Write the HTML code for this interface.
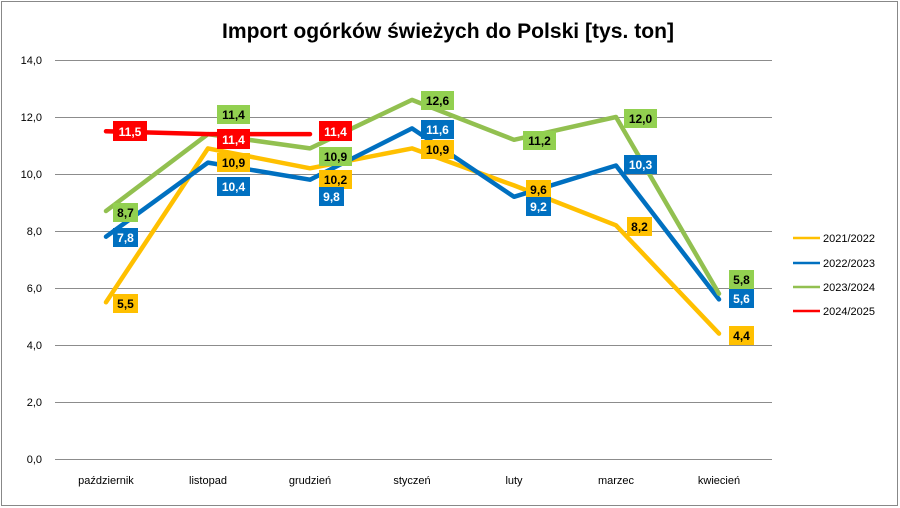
<!DOCTYPE html>
<html><head><meta charset="utf-8"><style>
html,body{margin:0;padding:0;background:#fff;}
svg{display:block;font-family:"Liberation Sans",sans-serif;}
</style></head><body>
<svg width="900" height="508" viewBox="0 0 900 508">
<rect x="1.5" y="1.5" width="896" height="504" fill="#fff" stroke="#888" stroke-width="1"/>
<text x="448" y="38" text-anchor="middle" font-size="21" font-weight="bold" textLength="452" lengthAdjust="spacingAndGlyphs" fill="#000">Import ogórków świeżych do Polski [tys. ton]</text>
<g stroke="#8c8c8c" stroke-width="1">
<line x1="55" y1="60.5" x2="772" y2="60.5"/>
<line x1="55" y1="117.5" x2="772" y2="117.5"/>
<line x1="55" y1="174.5" x2="772" y2="174.5"/>
<line x1="55" y1="231.5" x2="772" y2="231.5"/>
<line x1="55" y1="288.5" x2="772" y2="288.5"/>
<line x1="55" y1="345.5" x2="772" y2="345.5"/>
<line x1="55" y1="402.5" x2="772" y2="402.5"/>
<line x1="55" y1="459.5" x2="772" y2="459.5"/>
</g>
<g font-size="11" fill="#000" text-anchor="end">
<text x="42" y="64">14,0</text><text x="42" y="121">12,0</text><text x="42" y="178">10,0</text>
<text x="42" y="235">8,0</text><text x="42" y="292">6,0</text><text x="42" y="349">4,0</text>
<text x="42" y="406">2,0</text><text x="42" y="463">0,0</text>
</g>
<g font-size="11" fill="#000" text-anchor="middle">
<text x="106" y="484">październik</text><text x="208" y="484">listopad</text><text x="310" y="484">grudzień</text>
<text x="412" y="484">styczeń</text><text x="514" y="484">luty</text><text x="616" y="484">marzec</text><text x="719" y="484">kwiecień</text>
</g>
<g fill="none" stroke-width="4.5" stroke-linejoin="round" stroke-linecap="round">
<polyline stroke="#FFC000" points="106,302.3 208,148.4 310,168.3 412,148.4 514,185.4 616,225.3 719,333.6"/>
<polyline stroke="#0070C0" points="106,236.7 208,162.6 310,179.7 412,128.4 514,196.8 616,165.5 719,299.4"/>
<polyline stroke="#92C050" points="106,211 208,134.1 310,148.4 412,99.9 514,139.8 616,117 719,293.7"/>
<polyline stroke="#FF0000" points="106,131.3 208,134.1 310,134.1"/>
</g>
<g font-size="12" font-weight="bold" text-anchor="middle">
<rect x="113" y="294" width="25" height="19" fill="#FFC000"/><text x="125.5" y="308">5,5</text>
<rect x="217" y="153" width="33" height="19" fill="#FFC000"/><text x="233.5" y="167">10,9</text>
<rect x="319" y="170" width="33" height="19" fill="#FFC000"/><text x="335.5" y="184">10,2</text>
<rect x="421" y="140" width="33" height="19" fill="#FFC000"/><text x="437.5" y="154">10,9</text>
<rect x="526" y="180" width="25" height="19" fill="#FFC000"/><text x="538.5" y="194">9,6</text>
<rect x="627" y="217" width="25" height="19" fill="#FFC000"/><text x="639.5" y="231">8,2</text>
<rect x="729" y="326" width="25" height="19" fill="#FFC000"/><text x="741.5" y="340">4,4</text>
<g fill="#fff">
<rect x="113" y="228" width="25" height="19" fill="#0070C0"/><text x="125.5" y="242">7,8</text>
<rect x="217" y="177" width="33" height="19" fill="#0070C0"/><text x="233.5" y="191">10,4</text>
<rect x="319" y="187" width="25" height="19" fill="#0070C0"/><text x="331.5" y="201">9,8</text>
<rect x="421" y="120" width="33" height="19" fill="#0070C0"/><text x="437.5" y="134">11,6</text>
<rect x="526" y="197" width="25" height="19" fill="#0070C0"/><text x="538.5" y="211">9,2</text>
<rect x="624" y="155" width="33" height="19" fill="#0070C0"/><text x="640.5" y="169">10,3</text>
<rect x="729" y="289" width="25" height="19" fill="#0070C0"/><text x="741.5" y="303">5,6</text>
</g>
<rect x="113" y="203" width="25" height="19" fill="#92D050"/><text x="125.5" y="217">8,7</text>
<rect x="217" y="105" width="33" height="19" fill="#92D050"/><text x="233.5" y="119">11,4</text>
<rect x="319" y="147" width="33" height="19" fill="#92D050"/><text x="335.5" y="161">10,9</text>
<rect x="421" y="91" width="33" height="19" fill="#92D050"/><text x="437.5" y="105">12,6</text>
<rect x="523" y="131" width="33" height="19" fill="#92D050"/><text x="539.5" y="145">11,2</text>
<rect x="624" y="109" width="33" height="19" fill="#92D050"/><text x="640.5" y="123">12,0</text>
<rect x="729" y="270" width="25" height="19" fill="#92D050"/><text x="741.5" y="284">5,8</text>
<g fill="#fff">
<rect x="113" y="121" width="34" height="20" fill="#FF0000"/><text x="130" y="136">11,5</text>
<rect x="217" y="129" width="33" height="20" fill="#FF0000"/><text x="233.5" y="144">11,4</text>
<rect x="319" y="121" width="33" height="20" fill="#FF0000"/><text x="335.5" y="136">11,4</text>
</g>
</g>
<g stroke-width="2.5">
<line x1="793" y1="238" x2="820" y2="238" stroke="#FFC000"/>
<line x1="793" y1="263" x2="820" y2="263" stroke="#0070C0"/>
<line x1="793" y1="287" x2="820" y2="287" stroke="#92C050"/>
<line x1="793" y1="311" x2="820" y2="311" stroke="#FF0000"/>
</g>
<g font-size="11" fill="#000">
<text x="823" y="242">2021/2022</text><text x="823" y="267">2022/2023</text>
<text x="823" y="291">2023/2024</text><text x="823" y="315">2024/2025</text>
</g>
</svg>
</body></html>
